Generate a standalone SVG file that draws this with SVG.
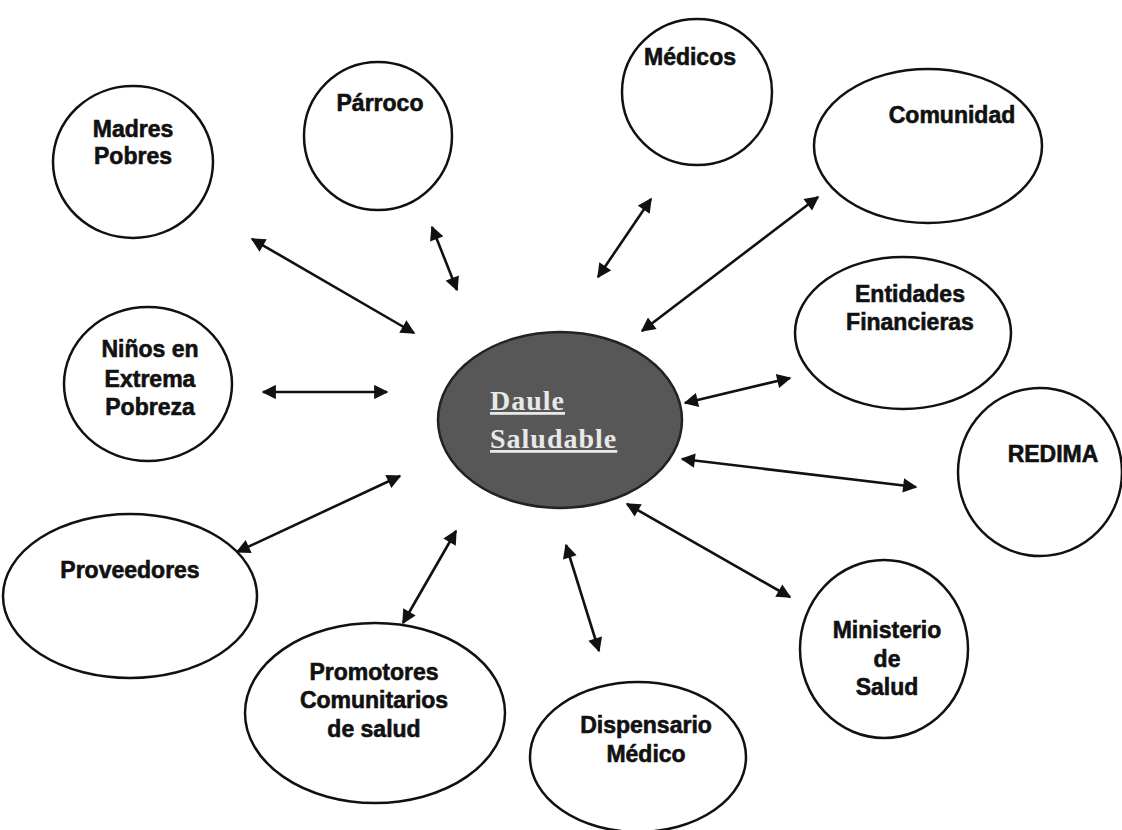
<svg xmlns="http://www.w3.org/2000/svg" width="1122" height="830" viewBox="0 0 1122 830">
<defs>
<marker id="ah" viewBox="0 0 10 10" refX="9" refY="5" markerWidth="6" markerHeight="5.5" orient="auto-start-reverse" markerUnits="strokeWidth">
<path d="M0,0 L10,5 L0,10 z" fill="#111"/>
</marker>
<style>
.n{fill:#fff;stroke:#111;stroke-width:2.5}
.t{font-family:"Liberation Sans",Arial,sans-serif;font-weight:bold;font-size:23px;fill:#111;stroke:#111;stroke-width:0.6;text-anchor:middle}
.c{stroke:#111;stroke-width:2.6;fill:none;marker-start:url(#ah);marker-end:url(#ah)}
.ct{font-family:"Liberation Serif","Times New Roman",serif;font-weight:bold;font-size:28px;letter-spacing:1px;fill:#e8e8e8;text-decoration:underline}
</style>
</defs>
<rect width="1122" height="830" fill="#fff"/>
<g id="connectors">
<line class="c" x1="252" y1="239" x2="414" y2="333"/>
<line class="c" x1="432" y1="227" x2="457" y2="290"/>
<line class="c" x1="651" y1="199" x2="598" y2="277"/>
<line class="c" x1="818" y1="197" x2="642" y2="331"/>
<line class="c" x1="263" y1="392" x2="387" y2="392"/>
<line class="c" x1="790" y1="378" x2="685" y2="403"/>
<line class="c" x1="682" y1="459" x2="916" y2="487"/>
<line class="c" x1="400" y1="476" x2="237" y2="552"/>
<line class="c" x1="456" y1="531" x2="403" y2="623"/>
<line class="c" x1="566" y1="545" x2="599" y2="651"/>
<line class="c" x1="627" y1="504" x2="790" y2="597"/>
</g>
<g id="center">
<ellipse cx="560" cy="420" rx="122" ry="88" fill="#575757" stroke="#222" stroke-width="2.5"/>
<text class="ct" x="490" y="410">Daule</text>
<text class="ct" x="490" y="448">Saludable</text>
</g>
<g id="madres">
<ellipse class="n" cx="133" cy="162" rx="80" ry="76"/>
<text class="t" x="133" y="137">Madres</text>
<text class="t" x="133" y="164">Pobres</text>
</g>
<g id="parroco">
<ellipse class="n" cx="378" cy="136" rx="74" ry="74"/>
<text class="t" x="380" y="111">Párroco</text>
</g>
<g id="medicos">
<ellipse class="n" cx="697" cy="92" rx="75" ry="73"/>
<text class="t" x="690" y="65">Médicos</text>
</g>
<g id="comunidad">
<ellipse class="n" cx="928" cy="146" rx="114" ry="77"/>
<text class="t" x="952" y="123">Comunidad</text>
</g>
<g id="entidades">
<ellipse class="n" cx="903" cy="333" rx="108" ry="76"/>
<text class="t" x="910" y="302">Entidades</text>
<text class="t" x="910" y="330">Financieras</text>
</g>
<g id="redima">
<ellipse class="n" cx="1040" cy="472" rx="82" ry="84"/>
<text class="t" x="1053" y="462">REDIMA</text>
</g>
<g id="ministerio">
<ellipse class="n" cx="884" cy="649" rx="84" ry="89"/>
<text class="t" x="887" y="638">Ministerio</text>
<text class="t" x="887" y="667">de</text>
<text class="t" x="887" y="695">Salud</text>
</g>
<g id="dispensario">
<ellipse class="n" cx="638" cy="757" rx="108" ry="75"/>
<text class="t" x="646" y="733">Dispensario</text>
<text class="t" x="646" y="762">Médico</text>
</g>
<g id="promotores">
<ellipse class="n" cx="375" cy="713" rx="130" ry="90"/>
<text class="t" x="374" y="680">Promotores</text>
<text class="t" x="374" y="708">Comunitarios</text>
<text class="t" x="374" y="737">de salud</text>
</g>
<g id="proveedores">
<ellipse class="n" cx="130" cy="596" rx="127" ry="82"/>
<text class="t" x="130" y="578">Proveedores</text>
</g>
<g id="ninos">
<ellipse class="n" cx="148" cy="384" rx="84" ry="77"/>
<text class="t" x="150" y="357">Niños en</text>
<text class="t" x="150" y="387">Extrema</text>
<text class="t" x="150" y="415">Pobreza</text>
</g>
</svg>
